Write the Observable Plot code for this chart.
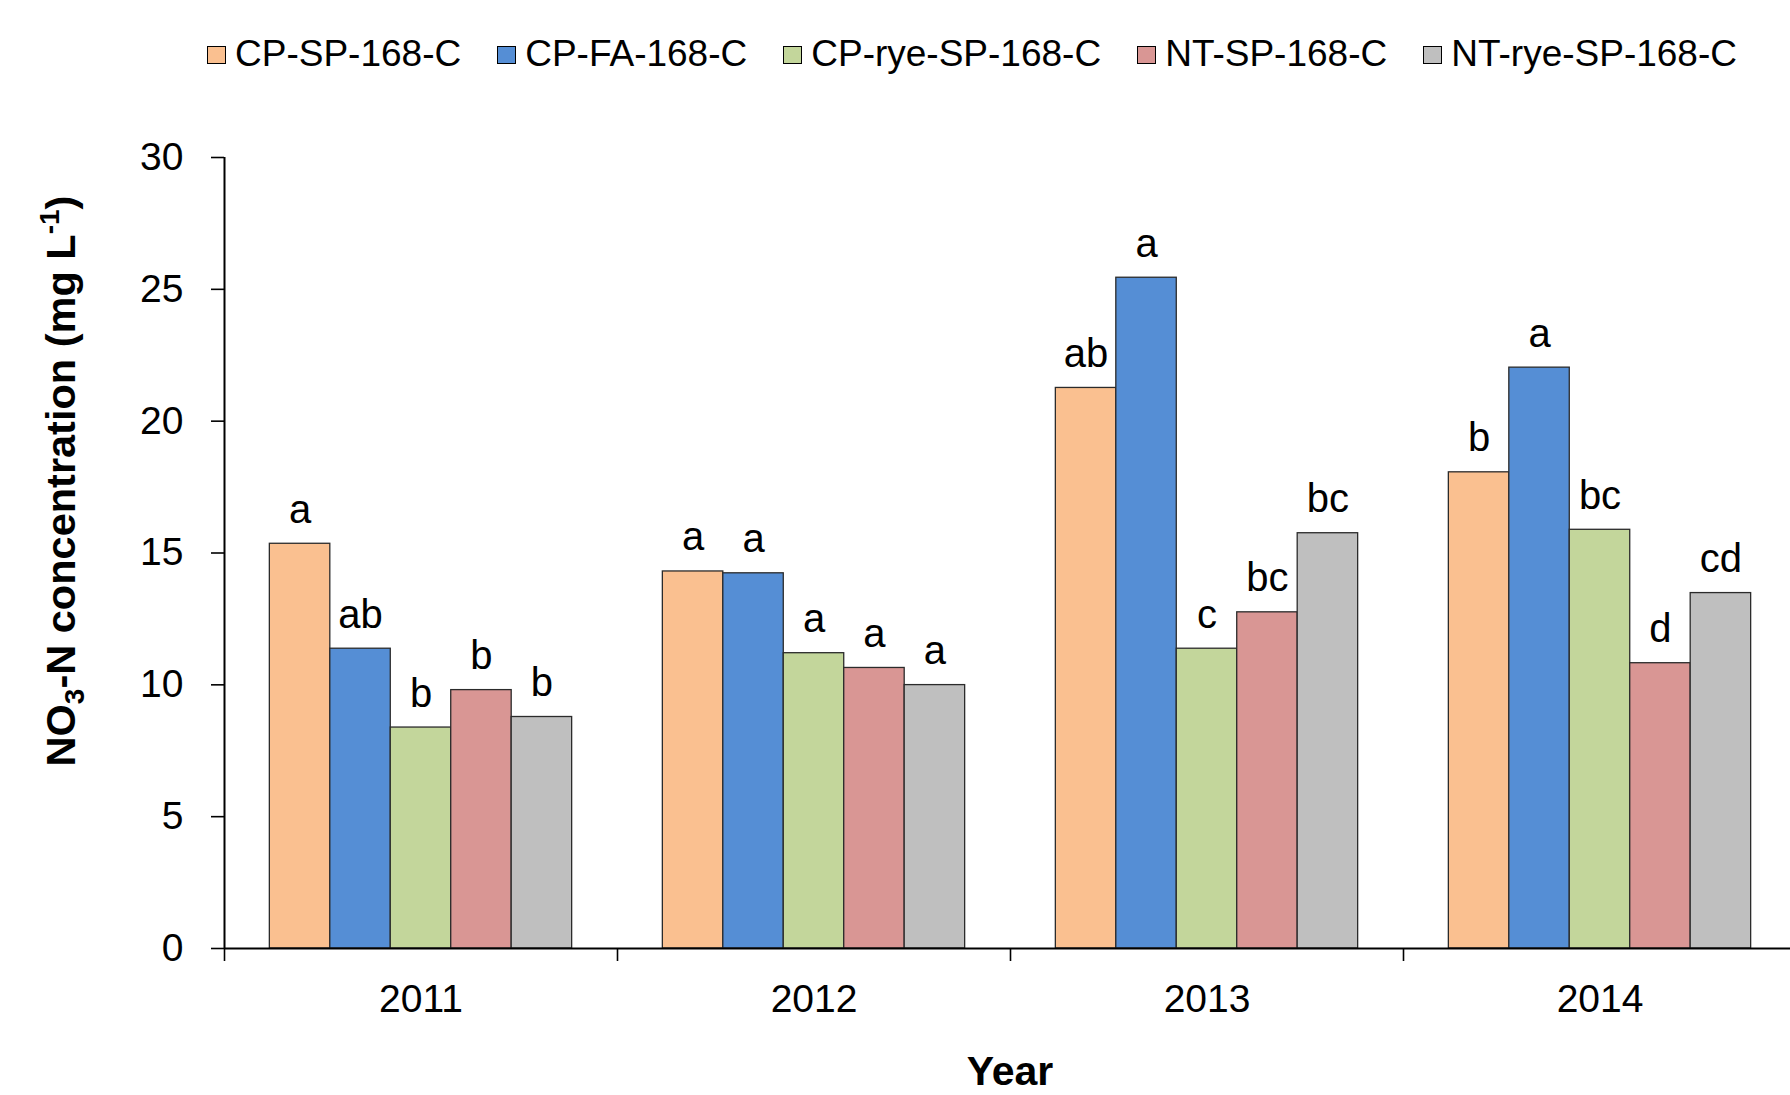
<!DOCTYPE html>
<html>
<head>
<meta charset="utf-8">
<script src="https://cdn.jsdelivr.net/npm/d3@7"></script>
<script src="https://cdn.jsdelivr.net/npm/@observablehq/plot@0.6"></script>
<style>
  html, body { margin: 0; padding: 0; background: #fff; overflow: hidden; }
  body { width: 1790px; height: 1095px; font-family: "Liberation Sans", Arial, sans-serif; }
  #legend { height: 100px; box-sizing: border-box; padding-top: 35px; padding-left: 207px;
            display: flex; align-items: flex-start; gap: 36px; }
  .item { display: flex; align-items: center; gap: 9px; font-size: 37px; line-height: 37px; height: 37px; color: #000; }
  .sw { width: 17px; height: 16px; border: 1.5px solid #000; margin-top: 2px; }
  #chart svg { display: block; }
</style>
</head>
<body>
<div id="legend"></div>
<div id="chart"></div>
<script>
// ---- Data ----
const years = ["2011", "2012", "2013", "2014"];
const series = ["CP-SP-168-C", "CP-FA-168-C", "CP-rye-SP-168-C", "NT-SP-168-C", "NT-rye-SP-168-C"];
const colors = ["#FAC090", "#558ED5", "#C3D69B", "#D99694", "#BFBFBF"];

const cpSp    = [15.35, 14.30, 21.26, 18.06];
const cpFa    = [11.37, 14.23, 25.44, 22.03];
const cpRyeSp = [8.38, 11.20, 11.37, 15.88];
const ntSp    = [9.80, 10.64, 12.75, 10.82];
const ntRyeSp = [8.78, 9.99, 15.75, 13.48];

const cpSpLetters    = ["a", "a", "ab", "b"];
const cpFaLetters    = ["ab", "a", "a", "a"];
const cpRyeSpLetters = ["b", "a", "c", "bc"];
const ntSpLetters    = ["b", "a", "bc", "d"];
const ntRyeSpLetters = ["b", "a", "bc", "cd"];

const yTicks = [0, 5, 10, 15, 20, 25, 30];

// ---- Table built from the arrays ----
const values = [cpSp, cpFa, cpRyeSp, ntSp, ntRyeSp];
const letters = [cpSpLetters, cpFaLetters, cpRyeSpLetters, ntSpLetters, ntRyeSpLetters];
const rows = series.flatMap((s, j) => years.map((y, i) => ({
  year: y, series: s, value: values[j][i], letter: letters[j][i], i, j
})));

// group layout: outer padding (in bar widths) on each side of a year group
const pad = 0.75;
const slots = series.length + 2 * pad;
const x1 = d => d.i + (pad + d.j) / slots;
const x2 = d => d.i + (pad + d.j + 1) / slots;
const xm = d => d.i + (pad + d.j + 0.5) / slots;

// ---- Legend ----
const legend = document.getElementById("legend");
series.forEach((s, k) => {
  const it = document.createElement("div");
  it.className = "item";
  const sw = document.createElement("div");
  sw.className = "sw";
  sw.style.background = colors[k];
  const tx = document.createElement("span");
  tx.textContent = s;
  it.appendChild(sw);
  it.appendChild(tx);
  legend.appendChild(it);
});

// ---- Chart ----
const font = "'Liberation Sans', Arial, sans-serif";
const chart = Plot.plot({
  width: 1790,
  height: 995,
  marginLeft: 224,
  marginRight: 0,
  marginTop: 57,
  marginBottom: 147,
  style: { fontFamily: font, background: "white", color: "black", overflow: "visible" },
  x: { domain: [0, years.length], range: [224, 1796], axis: null },
  y: { domain: [0, 30], range: [848, 57], axis: null },
  color: { domain: series, range: colors },
  marks: [
    Plot.rect(rows, { x1, x2, y1: 0, y2: "value", fill: "series", stroke: "#2b2b2b", strokeWidth: 1.3 }),
    Plot.text(rows, { x: xm, y: "value", text: "letter", dy: -21, lineAnchor: "bottom", fontSize: 40, fill: "black" }),
    Plot.axisY({ ticks: yTicks, tickSize: 13, tickPadding: 28, fontSize: 39, tickFormat: d => String(d), label: null, strokeWidth: 1.6 }),
    Plot.axisX({ ticks: years.map((_, i) => i), tickSize: 13, tickFormat: () => "", label: null, strokeWidth: 1.6 }),
    Plot.axisX({ ticks: years.map((_, i) => i + 0.5), tickSize: 0, tickPadding: 36, fontSize: 39,
                 tickFormat: v => years[Math.floor(v)], label: null }),
    Plot.ruleX([0], { strokeWidth: 2 }),
    Plot.ruleY([0], { strokeWidth: 2 })
  ]
});
document.getElementById("chart").appendChild(chart);

// ---- Axis titles (with sub/superscript) ----
const svg = d3.select(chart);
const xs = chart.scale("x");
const yt = svg.append("text")
  .attr("transform", "translate(75, 381) rotate(-90)")
  .attr("text-anchor", "middle")
  .attr("font-family", font)
  .attr("font-weight", "bold")
  .attr("font-size", 41.5)
  .attr("fill", "black");
yt.append("tspan").text("NO");
yt.append("tspan").attr("font-size", 28).attr("dy", 9).text("3");
yt.append("tspan").attr("dy", -9).text("-N concentration (mg L");
yt.append("tspan").attr("font-size", 28).attr("dy", -16).text("-1");
yt.append("tspan").attr("dy", 16).text(")");

svg.append("text")
  .attr("x", xs.apply(years.length / 2))
  .attr("y", 985)
  .attr("text-anchor", "middle")
  .attr("font-family", font)
  .attr("font-weight", "bold")
  .attr("font-size", 41)
  .attr("fill", "black")
  .text("Year");
</script>
</body>
</html>
